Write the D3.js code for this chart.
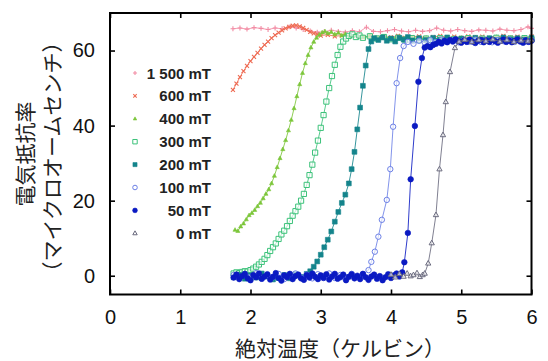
<!DOCTYPE html>
<html>
<head>
<meta charset="utf-8">
<script src="https://cdn.jsdelivr.net/npm/d3@7"></script>
<style>
  body { margin: 0; background: #fff; }
  svg { display: block; }
</style>
</head>
<body>
<div id="chart"></div>
<script>
// resistivity (micro-ohm cm) vs temperature (K), one array per field, [T, R]
const mt1500 = [[1.75,65.8],[1.85,66.0],[1.95,65.7],[2.05,66.1],[2.15,65.9],[2.25,65.6],[2.35,66.0],[2.45,65.8],[2.55,66.3],[2.65,66.0],[2.75,65.6],[2.85,65.2],[2.95,64.9],[3.05,65.0],[3.15,65.4],[3.25,65.1],[3.35,64.9],[3.45,65.3],[3.55,65.0],[3.65,66.2],[3.75,65.1],[3.85,65.0],[3.95,65.3],[4.05,65.6],[4.15,65.2],[4.25,65.0],[4.35,65.4],[4.45,65.1],[4.55,65.3],[4.65,66.0],[4.75,65.4],[4.85,65.2],[4.95,65.6],[5.05,65.3],[5.15,65.1],[5.25,65.5],[5.35,65.4],[5.45,65.2],[5.55,65.7],[5.65,65.4],[5.75,65.3],[5.85,65.6],[5.95,66.3],[6.00,65.9]]

const mt600 = [[1.75,49.5],[1.80,51.2],[1.85,52.9],[1.90,54.5],[1.95,55.9],[2.00,57.2],[2.05,58.3],[2.10,59.4],[2.15,60.5],[2.20,61.5],[2.25,62.4],[2.30,63.3],[2.35,64.1],[2.40,64.8],[2.45,65.4],[2.50,65.9],[2.55,66.3],[2.60,66.6],[2.65,66.7],[2.70,66.4],[2.75,66.0],[2.80,65.5],[2.85,65.0],[2.90,64.6],[2.95,64.3],[3.00,64.0],[3.10,64.2],[3.20,63.8],[3.30,64.0],[3.40,63.6],[3.50,63.9],[3.60,63.5],[3.70,63.8],[3.80,63.4],[3.90,63.7],[4.00,63.5],[4.10,63.9],[4.20,63.4],[4.30,63.6],[4.40,63.8],[4.50,63.3],[4.60,63.6],[4.70,63.9],[4.80,63.5],[4.90,63.7],[5.00,63.4],[5.10,63.8],[5.20,63.5],[5.30,63.7],[5.40,63.3],[5.50,63.6],[5.60,63.9],[5.70,63.5],[5.80,63.7],[5.90,63.4],[6.00,63.8]]

const mt400 = [[1.78,12.2],[1.82,11.9],[1.86,13.1],[1.90,13.9],[1.94,15.0],[1.98,16.1],[2.02,16.7],[2.06,17.5],[2.10,18.5],[2.14,19.4],[2.18,20.6],[2.22,21.8],[2.26,23.0],[2.30,24.6],[2.34,26.6],[2.38,28.9],[2.42,31.3],[2.46,33.7],[2.50,36.1],[2.54,38.7],[2.58,41.5],[2.62,44.6],[2.66,47.8],[2.70,51.0],[2.74,54.0],[2.78,56.6],[2.82,58.8],[2.86,60.8],[2.90,62.3],[2.94,63.4],[2.98,64.2],[3.02,64.8],[3.06,65.1],[3.10,64.6],[3.15,64.9],[3.20,64.3],[3.25,64.7],[3.30,64.0],[3.35,64.4],[3.40,63.8],[3.50,64.1],[3.60,63.6],[3.70,63.9],[3.80,63.4],[3.90,63.7],[4.00,63.3],[4.10,63.6],[4.20,63.2],[4.30,63.5],[4.40,63.1],[4.50,63.4],[4.60,63.0],[4.70,63.3],[4.80,63.5],[4.90,63.1],[5.00,63.4],[5.10,63.2],[5.20,63.5],[5.30,63.1],[5.40,63.3],[5.50,63.6],[5.60,63.2],[5.70,63.4],[5.80,63.1],[5.90,63.5],[6.00,63.3]]

const mt300 = [[1.76,0.6],[1.80,0.9],[1.84,0.7],[1.88,1.0],[1.92,1.2],[1.96,1.1],[2.00,1.5],[2.04,1.9],[2.08,2.4],[2.12,3.0],[2.16,3.7],[2.20,4.5],[2.24,5.5],[2.28,6.6],[2.32,7.6],[2.36,8.6],[2.40,9.8],[2.44,11.0],[2.48,12.0],[2.52,13.2],[2.56,14.6],[2.60,16.0],[2.64,17.2],[2.68,18.4],[2.72,20.0],[2.76,21.8],[2.80,24.2],[2.84,26.8],[2.88,29.6],[2.92,32.8],[2.96,36.0],[3.00,39.4],[3.04,42.8],[3.08,46.4],[3.12,50.0],[3.16,53.2],[3.20,56.2],[3.24,58.8],[3.28,61.0],[3.32,62.4],[3.36,63.2],[3.40,63.9],[3.45,64.3],[3.50,63.6],[3.55,64.0],[3.60,63.4],[3.70,63.8],[3.80,63.2],[3.90,63.6],[4.00,63.0],[4.10,63.4],[4.20,62.9],[4.30,63.3],[4.40,62.8],[4.50,63.2],[4.60,62.9],[4.70,63.3],[4.80,62.8],[4.90,63.1],[5.00,62.9],[5.10,63.3],[5.20,62.8],[5.30,63.2],[5.40,62.9],[5.50,63.4],[5.60,62.9],[5.70,63.2],[5.80,62.8],[5.90,63.3],[6.00,63.0]]

const mt200 = [[1.76,-0.4],[1.84,0.3],[1.92,-0.8],[2.00,0.1],[2.08,-0.5],[2.16,0.6],[2.24,-0.2],[2.32,-1.0],[2.40,-0.6],[2.48,0.2],[2.56,-0.7],[2.64,0.4],[2.72,-0.3],[2.80,0.5],[2.85,1.2],[2.90,2.4],[2.95,3.8],[3.00,5.6],[3.05,7.6],[3.10,9.6],[3.15,11.8],[3.20,14.4],[3.25,17.0],[3.30,19.4],[3.35,21.6],[3.40,24.6],[3.44,28.4],[3.48,33.0],[3.52,39.0],[3.56,44.8],[3.60,50.6],[3.64,56.0],[3.68,60.4],[3.72,62.4],[3.76,63.3],[3.82,62.8],[3.88,63.5],[3.94,62.6],[4.00,63.2],[4.06,62.4],[4.12,63.4],[4.18,62.9],[4.24,63.6],[4.30,62.7],[4.40,63.3],[4.50,62.8],[4.60,63.4],[4.70,62.9],[4.80,63.5],[4.90,62.8],[5.00,63.2],[5.10,62.7],[5.20,63.4],[5.30,62.9],[5.40,63.3],[5.50,62.8],[5.60,63.5],[5.70,63.0],[5.80,63.3],[5.90,62.9],[6.00,63.4]]

const mt100 = [[1.76,0.2],[1.84,-0.6],[1.92,0.4],[2.00,-0.3],[2.08,0.7],[2.16,-0.8],[2.24,0.1],[2.32,-0.4],[2.40,0.5],[2.48,-0.9],[2.56,0.0],[2.64,0.6],[2.72,-0.5],[2.80,0.3],[2.88,-0.7],[2.96,0.4],[3.04,-0.2],[3.12,0.6],[3.20,-0.6],[3.28,0.2],[3.36,-0.4],[3.44,0.5],[3.52,-0.3],[3.60,0.4],[3.68,1.5],[3.72,3.7],[3.77,6.4],[3.82,10.4],[3.87,14.9],[3.94,20.2],[3.99,28.4],[4.03,39.7],[4.08,51.3],[4.13,58.0],[4.18,61.2],[4.24,62.3],[4.32,61.8],[4.40,62.6],[4.48,62.1],[4.56,62.8],[4.64,62.3],[4.72,62.9],[4.80,62.4],[4.88,62.7],[4.96,62.2],[5.04,62.8],[5.12,62.4],[5.20,62.9],[5.28,62.3],[5.36,62.7],[5.44,62.2],[5.52,62.8],[5.60,62.5],[5.68,62.9],[5.76,62.3],[5.84,62.7],[5.92,62.4],[6.00,62.8]]

const mt50 = [[1.76,-0.5],[1.80,0.3],[1.84,-0.9],[1.88,-0.1],[1.92,0.5],[1.96,-0.7],[2.00,-1.2],[2.04,0.2],[2.08,-0.4],[2.12,0.6],[2.16,-0.8],[2.20,-0.2],[2.24,0.4],[2.28,-1.0],[2.32,-0.3],[2.36,0.7],[2.40,-0.6],[2.44,-1.3],[2.48,0.1],[2.52,-0.4],[2.56,0.5],[2.60,-0.9],[2.64,-0.1],[2.68,0.3],[2.72,-0.7],[2.76,-1.1],[2.80,0.2],[2.84,-0.5],[2.88,0.6],[2.92,-0.3],[2.96,-0.9],[3.00,0.1],[3.04,-0.6],[3.08,0.4],[3.12,-1.0],[3.16,-0.2],[3.20,0.5],[3.24,-0.8],[3.28,-0.4],[3.32,0.3],[3.36,-1.2],[3.40,-0.3],[3.44,0.4],[3.48,-0.7],[3.52,0.0],[3.56,-0.9],[3.60,0.5],[3.64,-0.4],[3.68,-1.1],[3.72,-0.2],[3.76,0.3],[3.80,-0.8],[3.84,-0.1],[3.88,-1.2],[3.92,-0.4],[3.96,0.4],[4.00,-0.6],[4.04,0.1],[4.08,0.6],[4.12,-0.2],[4.16,0.9],[4.19,3.6],[4.24,11.4],[4.28,25.7],[4.34,39.9],[4.39,51.7],[4.44,58.0],[4.48,60.8],[4.52,61.2],[4.56,60.9],[4.60,61.5],[4.64,61.8],[4.68,62.3],[4.72,61.9],[4.76,62.6],[4.80,62.2],[4.84,62.8],[4.88,62.4],[4.92,63.0],[4.96,62.5],[5.00,62.1],[5.04,62.7],[5.08,62.3],[5.12,62.9],[5.16,62.4],[5.20,62.0],[5.24,62.6],[5.28,62.8],[5.32,62.2],[5.36,62.7],[5.40,62.3],[5.44,62.9],[5.48,62.5],[5.52,62.1],[5.56,62.6],[5.60,62.9],[5.64,62.3],[5.68,62.7],[5.72,62.2],[5.76,62.6],[5.80,62.9],[5.84,62.4],[5.88,62.1],[5.92,62.7],[5.96,62.3],[6.00,62.6]]

const mt0 = [[4.00,0.3],[4.06,-0.4],[4.12,0.5],[4.18,-0.2],[4.23,0.6],[4.28,-0.1],[4.32,0.2],[4.37,0.7],[4.41,-0.3],[4.45,0.2],[4.48,0.6],[4.53,3.3],[4.58,8.7],[4.64,16.2],[4.69,28.4],[4.74,37.5],[4.78,46.3],[4.84,54.3],[4.91,60.7],[4.97,62.4],[5.05,62.9],[5.15,62.3],[5.25,62.8],[5.35,62.5],[5.45,63.0],[5.55,62.4],[5.65,62.8],[5.75,62.3],[5.85,62.7],[5.95,62.5],[6.00,62.8]]

const fieldLabels = ['1 500 mT', '600 mT', '400 mT', '300 mT', '200 mT', '100 mT', '50 mT', '0 mT']
const seriesData = [mt1500, mt600, mt400, mt300, mt200, mt100, mt50, mt0]
const xTicks = [0, 1, 2, 3, 4, 5, 6]
const yTicks = [0, 20, 40, 60]

const STYLE = [
    { color: '#f28ca4', marker: 'plus', size: 2.4, open: false },
    { color: '#ee6a52', marker: 'times', size: 2.0, open: false },
    { color: '#7cc63a', marker: 'tri', size: 2.3, open: false },
    { color: '#3cc27a', marker: 'square', size: 2.6, open: true },
    { color: '#14848c', marker: 'square', size: 2.4, open: false },
    { color: '#6c80e6', marker: 'circle', size: 2.7, open: true },
    { color: '#0a1ac2', marker: 'circle', size: 2.8, open: false },
    { color: '#6a6a7e', marker: 'tri', size: 2.9, open: true },
]

const WIDTH = 548
const HEIGHT = 361
const PLOT = { left: 110, right: 531.5, top: 13, bottom: 294.5 }
const NUM_FONT = "'Liberation Sans', Arial, Helvetica, sans-serif"
const JP_FONT = "'Noto Sans CJK JP', 'Noto Sans CJK SC', sans-serif"

const svg = d3.select('#chart')
    .append('svg')
    .attr('width', WIDTH)
    .attr('height', HEIGHT)
    .style('background', '#fff')

const x = d3.scaleLinear().domain([0, 6]).range([PLOT.left, PLOT.right])
const y = d3.scaleLinear().domain([-5, 70]).range([PLOT.bottom, PLOT.top])

function markerPath(type, s) {
    switch (type) {
        case 'plus':
            return `M${-s},0H${s}M0,${-s}V${s}`
        case 'times':
            return `M${-s},${-s}L${s},${s}M${-s},${s}L${s},${-s}`
        case 'tri':
            return `M0,${-s}L${s * 0.9},${s * 0.6}L${-s * 0.9},${s * 0.6}Z`
        case 'square':
            return `M${-s},${-s}h${2 * s}v${2 * s}h${-2 * s}Z`
        case 'circle':
            return `M${s},0A${s},${s} 0 1,1 ${-s},0A${s},${s} 0 1,1 ${s},0Z`
    }
}

function styleMarker(sel, st) {
    const stroked = st.marker === 'plus' || st.marker === 'times'
    sel.attr('fill', stroked ? 'none' : (st.open ? '#fff' : st.color))
        .attr('fill-opacity', st.open ? 0.6 : 1)
        .attr('stroke', st.color)
        .attr('stroke-width', stroked ? 1.1 : (st.open ? 1 : 0.6))
}

/**
 * Data
 */
const line = d3.line().x(d => x(d[0])).y(d => y(d[1]))
const plotArea = svg.append('g')

seriesData.forEach((data, i) => {
    const st = STYLE[i]
    const g = plotArea.append('g')
    g.append('path')
        .datum(data)
        .attr('d', line)
        .attr('fill', 'none')
        .attr('stroke', st.color)
        .attr('stroke-width', 1)
        .attr('stroke-opacity', 0.85)
    g.selectAll('path.mk')
        .data(data)
        .enter()
        .append('path')
        .attr('class', 'mk')
        .attr('transform', d => `translate(${x(d[0])},${y(d[1])})`)
        .attr('d', markerPath(st.marker, st.size))
        .call(styleMarker, st)
})

/**
 * Axes, inward ticks on all four sides
 */
const axes = [
    { gen: d3.axisBottom(x).tickValues(xTicks), at: `translate(0,${PLOT.bottom})`, labels: true },
    { gen: d3.axisTop(x).tickValues(xTicks), at: `translate(0,${PLOT.top})`, labels: false },
    { gen: d3.axisLeft(y).tickValues(yTicks), at: `translate(${PLOT.left},0)`, labels: true },
    { gen: d3.axisRight(y).tickValues(yTicks), at: `translate(${PLOT.right},0)`, labels: false },
]
axes.forEach(a => {
    a.gen.tickSizeInner(-5).tickSizeOuter(0).tickPadding(15)
        .tickFormat(a.labels ? d3.format('d') : '')
    const g = svg.append('g').attr('transform', a.at).call(a.gen)
    g.select('.domain').remove()
    g.selectAll('.tick line').attr('stroke', '#000').attr('stroke-width', 1.6)
    g.selectAll('.tick text')
        .attr('fill', '#111')
        .style('font-family', NUM_FONT)
        .style('font-size', '20px')
})

svg.append('rect')
    .attr('x', PLOT.left)
    .attr('y', PLOT.top)
    .attr('width', PLOT.right - PLOT.left)
    .attr('height', PLOT.bottom - PLOT.top)
    .attr('fill', 'none')
    .attr('stroke', '#000')
    .attr('stroke-width', 2)

/**
 * Legend
 */
const legend = svg.append('g')
const legendRow = 22.9
fieldLabels.forEach((label, i) => {
    const st = STYLE[i]
    const ly = 73 + i * legendRow
    legend.append('path')
        .attr('transform', `translate(135,${ly})`)
        .attr('d', markerPath(st.marker, st.size * 0.85))
        .call(styleMarker, st)
    legend.append('text')
        .attr('x', 211)
        .attr('y', ly)
        .attr('text-anchor', 'end')
        .attr('dominant-baseline', 'central')
        .style('font-family', NUM_FONT)
        .style('font-size', '15px')
        .style('font-weight', 'bold')
        .attr('fill', '#222')
        .text(label)
})

/**
 * Axis titles
 */
svg.append('text')
    .attr('x', 340)
    .attr('y', 347)
    .attr('text-anchor', 'middle')
    .attr('dominant-baseline', 'central')
    .style('font-family', JP_FONT)
    .style('font-size', '21px')
    .attr('fill', '#222')
    .text('絶対温度（ケルビン）')

const yTitle = [
    { text: '電気抵抗率', x: 24, y: 154 },
    { text: '（マイクロオームセンチ）', x: 51, y: 157 },
]
yTitle.forEach(t => {
    svg.append('text')
        .attr('transform', `translate(${t.x},${t.y}) rotate(-90)`)
        .attr('text-anchor', 'middle')
        .attr('dominant-baseline', 'central')
        .style('font-family', JP_FONT)
        .style('font-size', '21px')
        .attr('fill', '#222')
        .text(t.text)
})
</script>
</body>
</html>
